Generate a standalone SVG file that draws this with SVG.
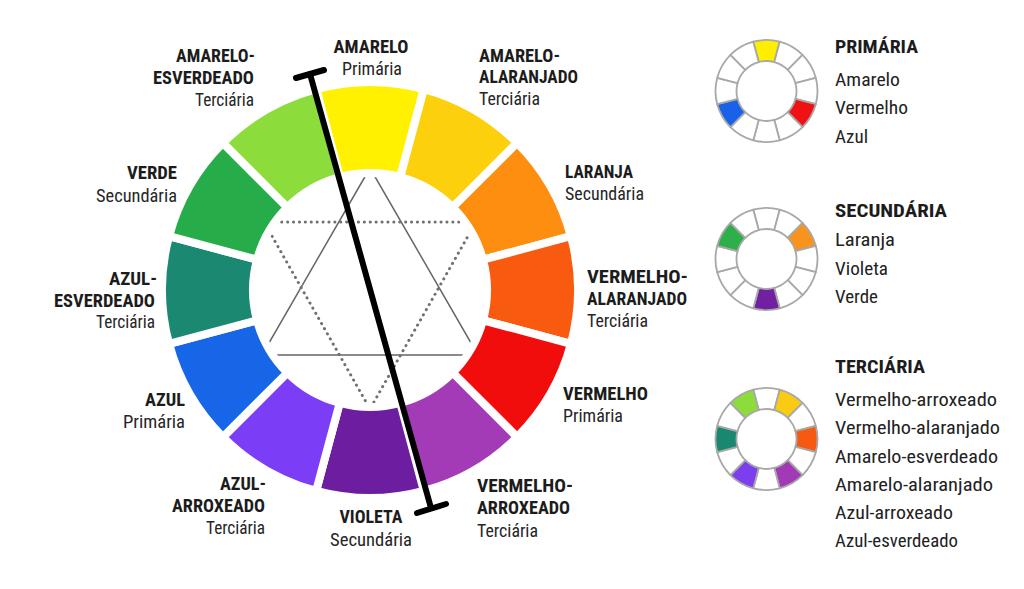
<svg xmlns="http://www.w3.org/2000/svg" xmlns:xlink="http://www.w3.org/1999/xlink" width="1024" height="589" viewBox="0 0 1024 589">
<style>
.seg{stroke:#fff;stroke-width:8;stroke-linejoin:miter}
.ms{stroke:#a8a8a8;stroke-width:1.8;stroke-linejoin:round}
.b{font-family:"Liberation Sans Narrow","Roboto Condensed","DejaVu Sans Condensed","Liberation Sans",sans-serif;font-weight:700;font-size:19px;fill:#1c1c1c}
.r{font-family:"Liberation Sans Narrow","Roboto Condensed","DejaVu Sans Condensed","Liberation Sans",sans-serif;font-weight:400;font-size:18px;fill:#262626}
.lt{font-family:"Liberation Sans Narrow","Roboto Condensed","DejaVu Sans Condensed","Liberation Sans",sans-serif;font-weight:700;font-size:19px;fill:#1c1c1c}
.li{font-family:"Liberation Sans Narrow","Roboto Condensed","DejaVu Sans Condensed","Liberation Sans",sans-serif;font-weight:400;font-size:18.5px;fill:#222}
.tri{fill:none;stroke:#666;stroke-width:1.5}
.dot{fill:none;stroke:#707070;stroke-width:3;stroke-linecap:round;stroke-dasharray:0.1 5.8}
.bar{fill:none;stroke:#000;stroke-width:6;stroke-linecap:round}
</style>
<defs>
<path id="seg" d="M -53.83 -200.91 A 208 208 0 0 1 53.83 -200.91 L 30.28 -113.01 A 117 117 0 0 0 -30.28 -113.01 Z"/>
<path id="mseg" d="M -13.2 -49.26 A 51 51 0 0 1 13.2 -49.26 L 7.76 -28.98 A 30 30 0 0 0 -7.76 -28.98 Z"/>
</defs>
<rect width="1024" height="589" fill="#fff"/>

<g id="triangles">
<polygon class="tri" points="370,168 262,355 478,355"/>
<polygon class="dot" points="264,222 476,222 370,409"/>
</g>

<g id="wheel" transform="translate(370,290)">
<g id="amarelo"><use href="#seg" class="seg" fill="#FFF100" transform="rotate(0)"/></g>
<g id="amarelo-alaranjado"><use href="#seg" class="seg" fill="#FCD00D" transform="rotate(30)"/></g>
<g id="laranja"><use href="#seg" class="seg" fill="#FD8E10" transform="rotate(60)"/></g>
<g id="vermelho-alaranjado"><use href="#seg" class="seg" fill="#F85A10" transform="rotate(90)"/></g>
<g id="vermelho"><use href="#seg" class="seg" fill="#F20D0D" transform="rotate(120)"/></g>
<g id="vermelho-arroxeado"><use href="#seg" class="seg" fill="#A43BB6" transform="rotate(150)"/></g>
<g id="violeta"><use href="#seg" class="seg" fill="#6D1D9F" transform="rotate(180)"/></g>
<g id="azul-arroxeado"><use href="#seg" class="seg" fill="#7B3EF6" transform="rotate(210)"/></g>
<g id="azul"><use href="#seg" class="seg" fill="#1866E8" transform="rotate(240)"/></g>
<g id="azul-esverdeado"><use href="#seg" class="seg" fill="#1B8872" transform="rotate(270)"/></g>
<g id="verde"><use href="#seg" class="seg" fill="#26AD4A" transform="rotate(300)"/></g>
<g id="amarelo-esverdeado"><use href="#seg" class="seg" fill="#8CDC3C" transform="rotate(330)"/></g>
</g>

<g id="connectors">
<line class="bar" x1="310" y1="74" x2="431" y2="508"/>
<line class="bar" x1="296" y1="78" x2="324" y2="70"/>
<line class="bar" x1="417" y1="513" x2="446" y2="504"/>
</g>

<g id="labels">
<g id="lbl-amarelo">
<text class="b" x="371" y="53" text-anchor="middle" textLength="75" lengthAdjust="spacingAndGlyphs">AMARELO</text>
<text class="r" x="372" y="75" text-anchor="middle" textLength="60" lengthAdjust="spacingAndGlyphs">Primária</text>
</g>
<g id="lbl-amarelo-esverdeado">
<text class="b" x="255" y="62" text-anchor="end" textLength="79" lengthAdjust="spacingAndGlyphs">AMARELO-</text>
<text class="b" x="254" y="84" text-anchor="end" textLength="101" lengthAdjust="spacingAndGlyphs">ESVERDEADO</text>
<text class="r" x="254" y="106" text-anchor="end" textLength="59" lengthAdjust="spacingAndGlyphs">Terciária</text>
</g>
<g id="lbl-amarelo-alaranjado">
<text class="b" x="479" y="62" text-anchor="start" textLength="81" lengthAdjust="spacingAndGlyphs">AMARELO-</text>
<text class="b" x="479" y="83" text-anchor="start" textLength="99" lengthAdjust="spacingAndGlyphs">ALARANJADO</text>
<text class="r" x="479" y="105" text-anchor="start" textLength="61" lengthAdjust="spacingAndGlyphs">Terciária</text>
</g>
<g id="lbl-verde">
<text class="b" x="177" y="179" text-anchor="end" textLength="50" lengthAdjust="spacingAndGlyphs">VERDE</text>
<text class="r" x="177" y="202" text-anchor="end" textLength="81" lengthAdjust="spacingAndGlyphs">Secundária</text>
</g>
<g id="lbl-laranja">
<text class="b" x="565" y="178" text-anchor="start" textLength="68" lengthAdjust="spacingAndGlyphs">LARANJA</text>
<text class="r" x="565" y="200" text-anchor="start" textLength="79" lengthAdjust="spacingAndGlyphs">Secundária</text>
</g>
<g id="lbl-azul-esverdeado">
<text class="b" x="157" y="285" text-anchor="end" textLength="48" lengthAdjust="spacingAndGlyphs">AZUL-</text>
<text class="b" x="155" y="307" text-anchor="end" textLength="101" lengthAdjust="spacingAndGlyphs">ESVERDEADO</text>
<text class="r" x="155" y="328" text-anchor="end" textLength="59" lengthAdjust="spacingAndGlyphs">Terciária</text>
</g>
<g id="lbl-vermelho-alaranjado">
<text class="b" x="587" y="283" text-anchor="start" textLength="101" lengthAdjust="spacingAndGlyphs">VERMELHO-</text>
<text class="b" x="587" y="305" text-anchor="start" textLength="100" lengthAdjust="spacingAndGlyphs">ALARANJADO</text>
<text class="r" x="587" y="327" text-anchor="start" textLength="61" lengthAdjust="spacingAndGlyphs">Terciária</text>
</g>
<g id="lbl-azul">
<text class="b" x="185" y="406" text-anchor="end" textLength="40" lengthAdjust="spacingAndGlyphs">AZUL</text>
<text class="r" x="185" y="428" text-anchor="end" textLength="62" lengthAdjust="spacingAndGlyphs">Primária</text>
</g>
<g id="lbl-vermelho">
<text class="b" x="563" y="400" text-anchor="start" textLength="85" lengthAdjust="spacingAndGlyphs">VERMELHO</text>
<text class="r" x="563" y="422" text-anchor="start" textLength="60" lengthAdjust="spacingAndGlyphs">Primária</text>
</g>
<g id="lbl-azul-arroxeado">
<text class="b" x="266" y="490" text-anchor="end" textLength="46" lengthAdjust="spacingAndGlyphs">AZUL-</text>
<text class="b" x="265" y="512" text-anchor="end" textLength="93" lengthAdjust="spacingAndGlyphs">ARROXEADO</text>
<text class="r" x="265" y="534" text-anchor="end" textLength="59" lengthAdjust="spacingAndGlyphs">Terciária</text>
</g>
<g id="lbl-violeta">
<text class="b" x="371" y="523" text-anchor="middle" textLength="63" lengthAdjust="spacingAndGlyphs">VIOLETA</text>
<text class="r" x="371" y="546" text-anchor="middle" textLength="82" lengthAdjust="spacingAndGlyphs">Secundária</text>
</g>
<g id="lbl-vermelho-arroxeado">
<text class="b" x="477" y="492" text-anchor="start" textLength="96" lengthAdjust="spacingAndGlyphs">VERMELHO-</text>
<text class="b" x="477" y="514" text-anchor="start" textLength="93" lengthAdjust="spacingAndGlyphs">ARROXEADO</text>
<text class="r" x="477" y="537" text-anchor="start" textLength="61" lengthAdjust="spacingAndGlyphs">Terciária</text>
</g>
</g>

<g id="legend-primaria">
<g transform="translate(766.5,91)">
<use href="#mseg" class="ms" fill="#FFEE00" transform="rotate(0)"/>
<use href="#mseg" class="ms" fill="#fff" transform="rotate(30)"/>
<use href="#mseg" class="ms" fill="#fff" transform="rotate(60)"/>
<use href="#mseg" class="ms" fill="#fff" transform="rotate(90)"/>
<use href="#mseg" class="ms" fill="#F01212" transform="rotate(120)"/>
<use href="#mseg" class="ms" fill="#fff" transform="rotate(150)"/>
<use href="#mseg" class="ms" fill="#fff" transform="rotate(180)"/>
<use href="#mseg" class="ms" fill="#fff" transform="rotate(210)"/>
<use href="#mseg" class="ms" fill="#1762E8" transform="rotate(240)"/>
<use href="#mseg" class="ms" fill="#fff" transform="rotate(270)"/>
<use href="#mseg" class="ms" fill="#fff" transform="rotate(300)"/>
<use href="#mseg" class="ms" fill="#fff" transform="rotate(330)"/>
</g>
<text class="lt" x="835" y="53" textLength="83" lengthAdjust="spacingAndGlyphs">PRIMÁRIA</text>
<text class="li" x="835" y="86" textLength="65" lengthAdjust="spacingAndGlyphs">Amarelo</text>
<text class="li" x="835" y="114" textLength="73" lengthAdjust="spacingAndGlyphs">Vermelho</text>
<text class="li" x="835" y="143" textLength="33" lengthAdjust="spacingAndGlyphs">Azul</text>
</g>

<g id="legend-secundaria">
<g transform="translate(766.5,259)">
<use href="#mseg" class="ms" fill="#fff" transform="rotate(0)"/>
<use href="#mseg" class="ms" fill="#fff" transform="rotate(30)"/>
<use href="#mseg" class="ms" fill="#F8931E" transform="rotate(60)"/>
<use href="#mseg" class="ms" fill="#fff" transform="rotate(90)"/>
<use href="#mseg" class="ms" fill="#fff" transform="rotate(120)"/>
<use href="#mseg" class="ms" fill="#fff" transform="rotate(150)"/>
<use href="#mseg" class="ms" fill="#7020A0" transform="rotate(180)"/>
<use href="#mseg" class="ms" fill="#fff" transform="rotate(210)"/>
<use href="#mseg" class="ms" fill="#fff" transform="rotate(240)"/>
<use href="#mseg" class="ms" fill="#fff" transform="rotate(270)"/>
<use href="#mseg" class="ms" fill="#2DB04A" transform="rotate(300)"/>
<use href="#mseg" class="ms" fill="#fff" transform="rotate(330)"/>
</g>
<text class="lt" x="835" y="217" textLength="112" lengthAdjust="spacingAndGlyphs">SECUNDÁRIA</text>
<text class="li" x="835" y="246" textLength="60" lengthAdjust="spacingAndGlyphs">Laranja</text>
<text class="li" x="835" y="275" textLength="53" lengthAdjust="spacingAndGlyphs">Violeta</text>
<text class="li" x="835" y="303" textLength="43" lengthAdjust="spacingAndGlyphs">Verde</text>
</g>

<g id="legend-terciaria">
<g transform="translate(766.5,439)">
<use href="#mseg" class="ms" fill="#fff" transform="rotate(0)"/>
<use href="#mseg" class="ms" fill="#F9CB12" transform="rotate(30)"/>
<use href="#mseg" class="ms" fill="#fff" transform="rotate(60)"/>
<use href="#mseg" class="ms" fill="#F65A12" transform="rotate(90)"/>
<use href="#mseg" class="ms" fill="#fff" transform="rotate(120)"/>
<use href="#mseg" class="ms" fill="#A23AB5" transform="rotate(150)"/>
<use href="#mseg" class="ms" fill="#fff" transform="rotate(180)"/>
<use href="#mseg" class="ms" fill="#7B3FF0" transform="rotate(210)"/>
<use href="#mseg" class="ms" fill="#fff" transform="rotate(240)"/>
<use href="#mseg" class="ms" fill="#1A8870" transform="rotate(270)"/>
<use href="#mseg" class="ms" fill="#fff" transform="rotate(300)"/>
<use href="#mseg" class="ms" fill="#8CDC3C" transform="rotate(330)"/>
</g>
<text class="lt" x="835" y="373" textLength="90" lengthAdjust="spacingAndGlyphs">TERCIÁRIA</text>
<text class="li" x="835" y="406" textLength="162" lengthAdjust="spacingAndGlyphs">Vermelho-arroxeado</text>
<text class="li" x="835" y="434" textLength="165" lengthAdjust="spacingAndGlyphs">Vermelho-alaranjado</text>
<text class="li" x="835" y="463" textLength="163" lengthAdjust="spacingAndGlyphs">Amarelo-esverdeado</text>
<text class="li" x="835" y="491" textLength="158" lengthAdjust="spacingAndGlyphs">Amarelo-alaranjado</text>
<text class="li" x="835" y="519" textLength="118" lengthAdjust="spacingAndGlyphs">Azul-arroxeado</text>
<text class="li" x="835" y="547" textLength="123" lengthAdjust="spacingAndGlyphs">Azul-esverdeado</text>
</g>
</svg>
